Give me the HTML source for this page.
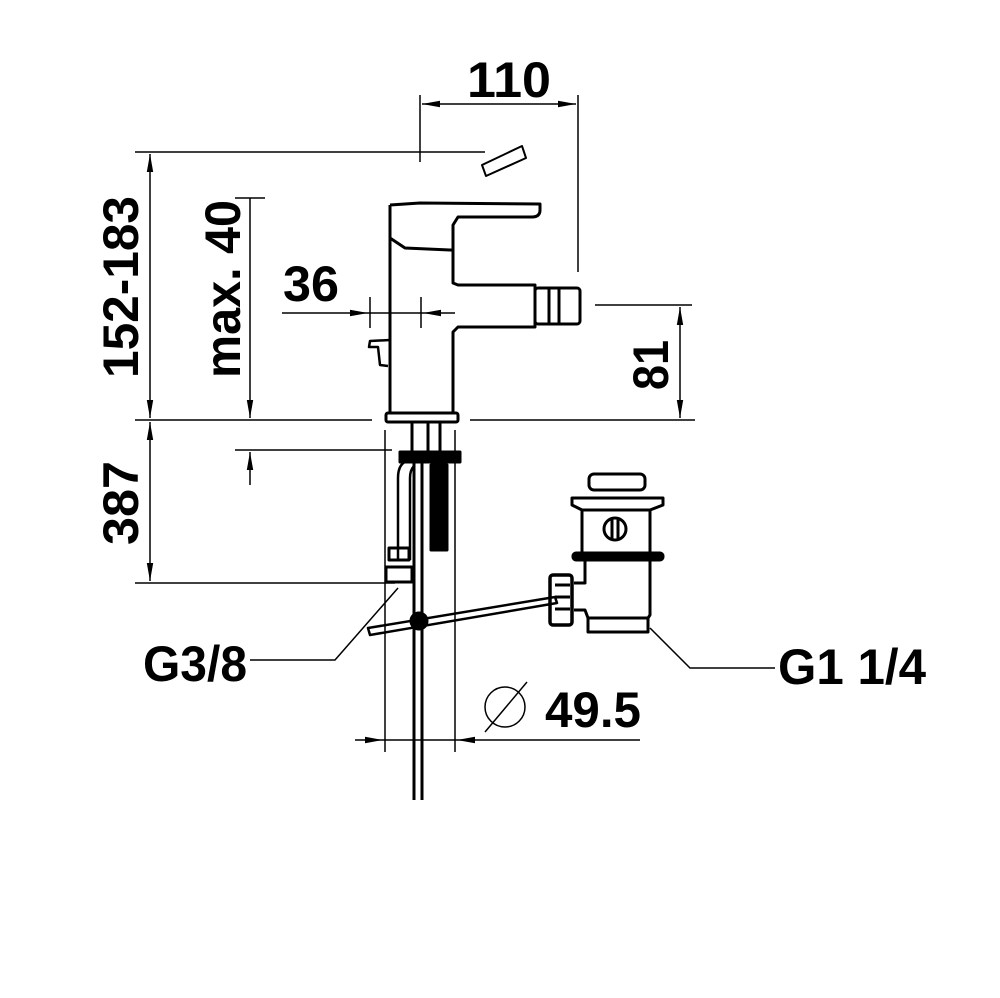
<!DOCTYPE html>
<html><head><style>body{margin:0;background:#fff}svg{display:block}</style></head><body>
<svg width="1000" height="998" viewBox="0 0 1000 998" xmlns="http://www.w3.org/2000/svg" font-family="Liberation Sans, sans-serif" font-weight="bold">
<defs>
<marker id="a" viewBox="0 0 10 10" preserveAspectRatio="none" refX="10" refY="5" markerWidth="18" markerHeight="8" orient="auto-start-reverse" markerUnits="userSpaceOnUse"><path d="M0,1 L10,5 L0,9 z" fill="#000"/></marker>
</defs>
<g stroke="#000" stroke-width="1.5" fill="none">
<line x1="420" y1="95" x2="420" y2="162"/>
<line x1="578" y1="95" x2="578" y2="272"/>
<line x1="422" y1="104" x2="576" y2="104" marker-start="url(#a)" marker-end="url(#a)"/>
<line x1="135" y1="152" x2="485" y2="152"/>
<line x1="150" y1="154" x2="150" y2="418" marker-start="url(#a)" marker-end="url(#a)"/>
<line x1="235" y1="198" x2="265" y2="198"/>
<line x1="250" y1="198" x2="250" y2="418" marker-end="url(#a)"/>
<line x1="250" y1="485" x2="250" y2="452" marker-end="url(#a)"/>
<line x1="235" y1="450" x2="392" y2="450"/>
<line x1="135" y1="420" x2="372" y2="420"/>
<line x1="470" y1="420" x2="695" y2="420"/>
<line x1="282" y1="313" x2="368" y2="313" marker-end="url(#a)"/>
<line x1="455" y1="313" x2="423" y2="313" marker-end="url(#a)"/>
<line x1="368" y1="313" x2="423" y2="313"/>
<line x1="370" y1="297" x2="370" y2="328"/>
<line x1="421" y1="297" x2="421" y2="328"/>
<line x1="595" y1="305" x2="692" y2="305"/>
<line x1="680" y1="307" x2="680" y2="418" marker-start="url(#a)" marker-end="url(#a)"/>
<line x1="150" y1="422" x2="150" y2="581" marker-start="url(#a)" marker-end="url(#a)"/>
<line x1="135" y1="583" x2="395" y2="583"/>
<line x1="385" y1="430" x2="385" y2="752"/>
<line x1="455" y1="430" x2="455" y2="752"/>
<line x1="355" y1="740" x2="383" y2="740" marker-end="url(#a)"/>
<line x1="640" y1="740" x2="457" y2="740" marker-end="url(#a)"/>
<line x1="383" y1="740" x2="457" y2="740"/>
<circle cx="505" cy="707" r="20"/>
<line x1="485" y1="732" x2="527" y2="682"/>
<polyline points="250,660 335,660 398,588"/>
<polyline points="775,668 690,668 650,628"/>
</g>
<g stroke="#000" stroke-width="3" fill="none" stroke-linejoin="round">
<path d="M482,165 L522,146 L526,158 L486,176 z" stroke-width="2"/>
<path d="M390,205 L390,238 L405,248 L450,250 L453,250 L453,225 L458,217 L532,217 Q540,217 540,210 L540,204 L420,203 L390,205"/>
<path d="M390,236 L390,413"/>
<path d="M453,250 L453,283 L458,285 L535,285 L535,327 L458,327 L453,332 L453,413"/>
<rect x="535" y="288" width="45" height="36" rx="3"/>
<line x1="549" y1="288" x2="549" y2="324"/>
<line x1="559" y1="288" x2="559" y2="324"/>
<path d="M390,340 L370,341 L369,347 L378,347 L380,365 L388,366" stroke-width="2.5"/>
<rect x="386" y="413" width="72" height="9" rx="2"/>
<line x1="412" y1="422" x2="412" y2="452"/>
<line x1="428" y1="422" x2="428" y2="452"/>
<line x1="440" y1="422" x2="440" y2="452"/>
<rect x="400" y="452" width="60" height="10" fill="#000"/>
<rect x="431" y="465" width="16" height="85" fill="#000"/>
<line x1="414" y1="462" x2="414" y2="800"/>
<line x1="422" y1="462" x2="422" y2="800"/>
<path d="M398,560 L398,478 Q398,462 410,460 M410,560 L410,478 Q410,470 414,466" stroke-width="2.5"/>
<rect x="389" y="548" width="20" height="12"/>
<rect x="386" y="567" width="26" height="15"/>
<path d="M368,628 L555,597 L557,603 L370,635 z" stroke-width="2.5"/>
<circle cx="419" cy="621" r="8" fill="#000"/>
<rect x="589" y="474" width="56" height="16" rx="5"/>
<path d="M572,498 L663,498 L663,505 L650,510 L582,510 L572,505 z"/>
<rect x="582" y="510" width="68" height="45"/>
<circle cx="615" cy="529" r="11"/>
<line x1="612" y1="518" x2="612" y2="540"/><line x1="618" y1="518" x2="618" y2="540"/>
<rect x="573" y="553" width="90" height="7" rx="3" fill="#000"/>
<path d="M585,560 L585,583 L574,583 M574,610 L585,610 L588,618 L588,632 L648,632 L648,618 L650,615 L650,560"/>
<line x1="588" y1="618" x2="648" y2="618"/>
<rect x="550" y="575" width="22" height="50" rx="3" stroke-width="3.5"/>
<line x1="555" y1="585" x2="570" y2="585"/><line x1="555" y1="597" x2="570" y2="597"/><line x1="555" y1="609" x2="570" y2="609"/>
</g>
<g fill="#000" font-size="50">
<text x="467" y="97" textLength="84" lengthAdjust="spacingAndGlyphs">110</text>
<text x="283" y="301" textLength="56" lengthAdjust="spacingAndGlyphs">36</text>
<text x="545" y="727" textLength="96" lengthAdjust="spacingAndGlyphs">49.5</text>
<text x="143" y="681" textLength="104" lengthAdjust="spacingAndGlyphs">G3/8</text>
<text x="778" y="684" textLength="148" lengthAdjust="spacingAndGlyphs">G1 1/4</text>
<text transform="translate(138,378) rotate(-90)" textLength="182" lengthAdjust="spacingAndGlyphs">152-183</text>
<text transform="translate(240,378) rotate(-90)" textLength="178" lengthAdjust="spacingAndGlyphs">max. 40</text>
<text transform="translate(668,390) rotate(-90)" textLength="50" lengthAdjust="spacingAndGlyphs">81</text>
<text transform="translate(138,545) rotate(-90)" textLength="84" lengthAdjust="spacingAndGlyphs">387</text>
</g>
</svg>
</body></html>
